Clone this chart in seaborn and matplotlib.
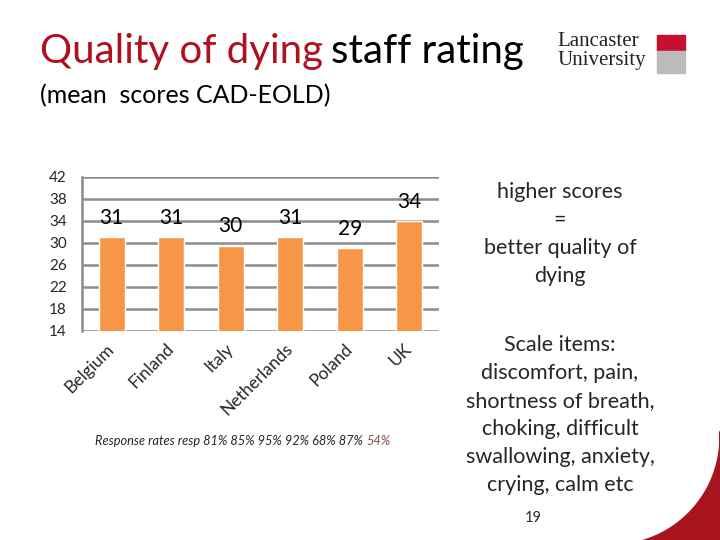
import matplotlib
matplotlib.use("Agg")
import matplotlib.pyplot as plt
import seaborn as sns
import pandas as pd
import numpy as np
from matplotlib.patches import Rectangle, Polygon

countries = ["Belgium", "Finland", "Italy", "Netherlands", "Poland", "UK"]
scores = [31.1, 31.0, 29.5, 31.0, 29.1, 34.0]
score_labels = ["31", "31", "30", "31", "29", "34"]
yticks = [14, 18, 22, 26, 30, 34, 38, 42]
response_rates = ["81%", "85%", "95%", "92%", "68%", "87%"]
response_extra = "54%"

sns.set_theme(style="white")
plt.rcParams['font.family'] = ['Lato', 'DejaVu Sans']

df = pd.DataFrame({"country": countries, "score": scores})

W, H = 720, 540
fig = plt.figure(figsize=(7.2, 5.4), dpi=100)

def fx(x):
    return x / W

def fy(y):
    return 1 - y / H

# Red corner decoration (outside of a white circle)
cx, cy, r = 612, 437, 108
ang = np.linspace(-0.05, np.pi / 2, 80)
arc = [(cx + r * np.cos(a), cy + r * np.sin(a)) for a in ang]
arc = [(fx(x), fy(y)) for x, y in arc if x <= W + 2 and y <= H + 2]
pts = arc + [(fx(W + 2), fy(H + 2))]
fig.patches.append(Polygon(pts, closed=True, transform=fig.transFigure,
                           color="#A8141E", zorder=0))

ax = fig.add_axes([fx(82), fy(331), (439 - 82) / W, (331 - 177) / H])

sns.barplot(data=df, x="country", y="score", color="#F79646", width=0.44,
            saturation=1, ax=ax, zorder=3)
ax.set_ylim(14, 42)
ax.set_xlim(-0.5, 5.5)
ax.set_yticks(yticks)
ax.set_yticklabels([str(t) for t in yticks], fontsize=11)
ax.yaxis.grid(True, color="#8c8c8c", linewidth=1.8, zorder=0)
ax.set_axisbelow(True)
for s in ["top", "right", "bottom"]:
    ax.spines[s].set_visible(False)
ax.spines["left"].set_color("#8c8c8c")
ax.spines["left"].set_linewidth(1.8)
ax.set_xlabel("")
ax.set_ylabel("")
ax.tick_params(axis="y", length=0, pad=11)
ax.tick_params(axis="x", length=0, pad=11)
ax.set_xticks(range(len(countries)))
ax.set_xticklabels(countries, rotation=45, ha="right", va="center",
                   rotation_mode="anchor", fontsize=12.5)

for i, (v, t) in enumerate(zip(scores, score_labels)):
    ax.annotate(t, (i, v), xytext=(0, 14), textcoords="offset points",
                ha="center", va="center", fontsize=15, color="black")

# Titles
fig.text(fx(40), fy(52), "Quality of dying", fontsize=29, color="#B01020",
         va="center", ha="left")
fig.text(fx(331), fy(52), "staff rating", fontsize=29, color="black",
         va="center", ha="left")
fig.text(fx(40), fy(96), "(mean  scores CAD-EOLD)", fontsize=18,
         color="black", va="center", ha="left")

# Response rates
t1 = fig.text(fx(95), fy(441),
              "Response rates resp " + " ".join(response_rates) + " ",
              fontsize=9.2, style="italic", va="center", ha="left")
fig.canvas.draw()
bb = t1.get_window_extent()
fig.text(bb.x1 / W, fy(441), response_extra, fontsize=9.2, style="italic",
         color="#8B4A4A", va="center", ha="left")

# Right side notes
fig.text(fx(560), fy(234), "higher scores\n=\nbetter quality of\ndying",
         fontsize=15.5, ha="center", va="center", linespacing=1.5)
fig.text(fx(560), fy(415),
         "Scale items:\ndiscomfort, pain,\nshortness of breath,\nchoking, difficult\nswallowing, anxiety,\ncrying, calm etc",
         fontsize=15.5, ha="center", va="center", linespacing=1.5)
fig.text(fx(533), fy(518), "19", fontsize=10.5, ha="center", va="center")

# Logo
fig.text(fx(557), fy(42), "Lancaster", family="Liberation Serif", fontsize=15,
         va="center", ha="left", color="#222222")
fig.text(fx(557), fy(60), "University", family="Liberation Serif", fontsize=15,
         va="center", ha="left", color="#222222")
fig.patches.append(Rectangle((fx(657), fy(51)), 28 / W, 16 / H,
                             transform=fig.transFigure, color="#C8102E"))
fig.patches.append(Rectangle((fx(657), fy(73)), 28 / W, 22 / H,
                             transform=fig.transFigure, color="#BBBBBB"))

fig.savefig("out.png", dpi=100)
